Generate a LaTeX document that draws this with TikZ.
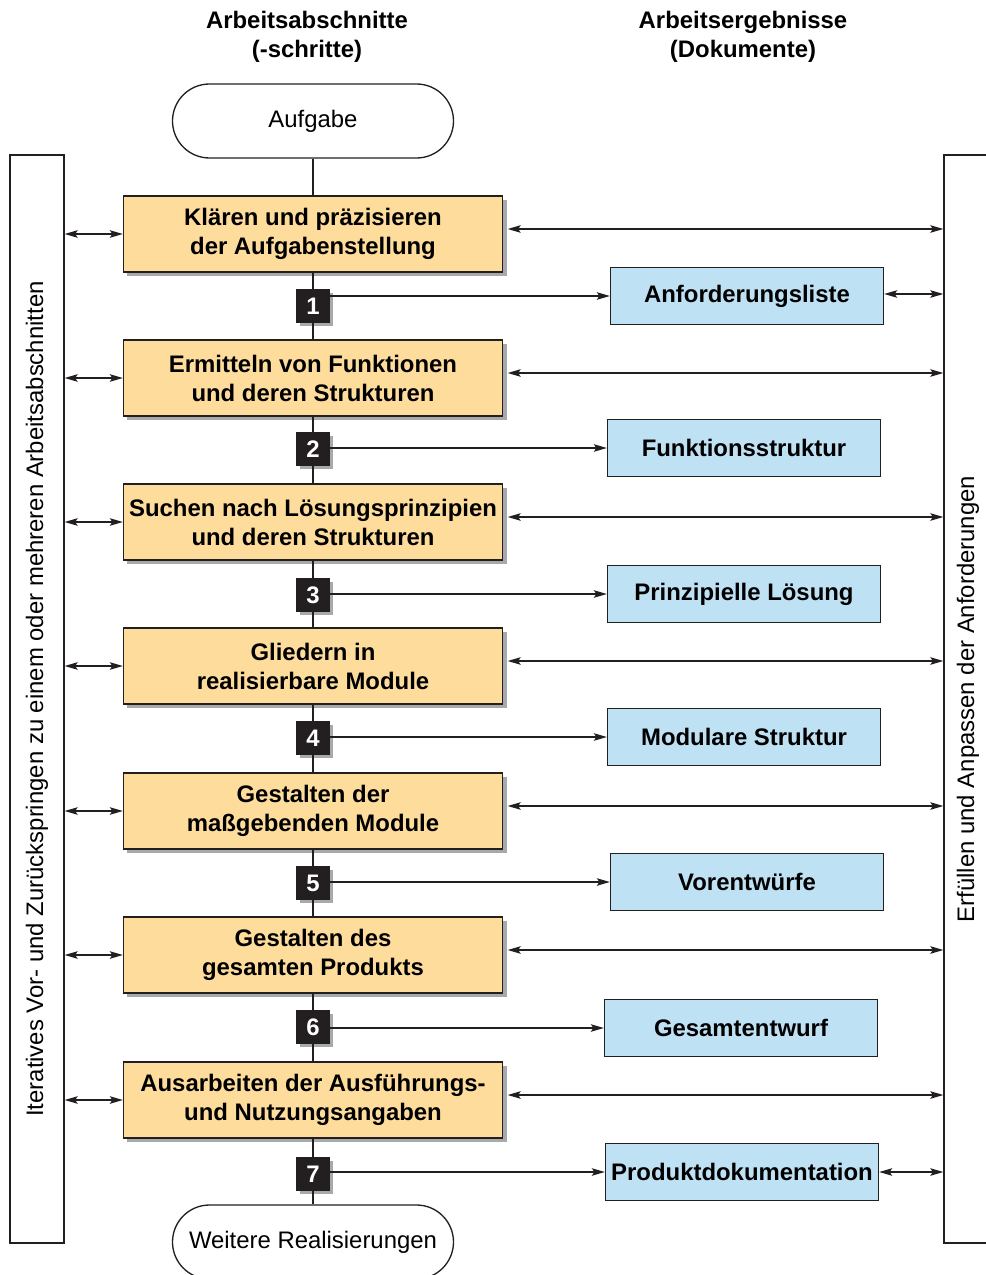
\documentclass[tikz,border=0pt]{standalone}
\usepackage{fontspec}
\setmainfont{Liberation Sans}
\usepackage{xcolor}
\usetikzlibrary{arrows.meta,positioning,shadows}
\definecolor{lineclr}{RGB}{35,31,32}
\definecolor{phasefill}{RGB}{254,220,155}
\definecolor{docfill}{RGB}{191,225,244}
\definecolor{shadowgray}{RGB}{167,169,172}

\begin{document}
\begin{tikzpicture}[
  x=0.2mm, y=-0.2mm, line width=0.75pt,
  every node/.style={font=\fontsize{13.6}{16.5}\selectfont},
  head/.style={align=center, font=\fontsize{13.6}{16.5}\selectfont\bfseries},
  term/.style={rectangle, rounded corners=7.4mm, draw=lineclr, fill=white, minimum width=56.2mm, minimum height=14.8mm},
  phase/.style={rectangle, draw=lineclr, fill=phasefill, minimum width=75.8mm, minimum height=15.2mm, inner sep=1pt, align=center, font=\fontsize{13.6}{16.5}\selectfont\bfseries, drop shadow={shadow xshift=0.8mm, shadow yshift=-0.8mm, fill=shadowgray, opacity=1}},
  doc/.style={rectangle, draw=lineclr, fill=docfill, minimum width=54.6mm, minimum height=11.4mm, inner sep=1pt, font=\fontsize{13.6}{16.5}\selectfont\bfseries},
  num/.style={rectangle, fill=lineclr, text=white, minimum size=6.7mm, inner sep=0pt, font=\fontsize{13.6}{16.5}\selectfont\bfseries, drop shadow={shadow xshift=0.7mm, shadow yshift=-0.7mm, fill=shadowgray, opacity=1}},
  frame/.style={rectangle, draw=lineclr, minimum width=10.8mm, minimum height=217.6mm, inner sep=0pt},
  link/.style={draw=lineclr},
  arr/.style={-{Stealth[length=2.6mm, width=1.5mm, inset=0.5mm]}, draw=lineclr},
  darr/.style={{Stealth[length=2.6mm, width=1.5mm, inset=0.5mm]}-{Stealth[length=2.6mm, width=1.5mm, inset=0.5mm]}, draw=lineclr},
  rarr/.style={darr, shorten <=0.9mm},
]
\useasboundingbox (0,0) rectangle (985,1275);

% Headings
\node[head] (hsteps) at (307,37) {Arbeitsabschnitte\\(-schritte)};
\node[head] (hdocs) at (743,37) {Arbeitsergebnisse\\(Dokumente)};

% Side frames
\node[frame] (back) at (37,699) {\rotatebox{90}{Iteratives Vor- und Zurückspringen zu einem oder mehreren Arbeitsabschnitten}};
\node[frame, minimum width=9.6mm] (fit) at (968,699) {\rotatebox{90}{Erfüllen und Anpassen der Anforderungen}};

% Start and end
\node[term] (task) at (313,121) {Aufgabe};
\node[term] (more) at (313,1242) {Weitere Realisierungen};

% Working steps
\node[phase] (p1) at (313,234) {Klären und präzisieren\\der Aufgabenstellung};
\node[phase] (p2) at (313,378) {Ermitteln von Funktionen\\und deren Strukturen};
\node[phase] (p3) at (313,522) {Suchen nach Lösungsprinzipien\\und deren Strukturen};
\node[phase] (p4) at (313,666) {Gliedern in\\realisierbare Module};
\node[phase] (p5) at (313,811) {Gestalten der\\maßgebenden Module};
\node[phase] (p6) at (313,955) {Gestalten des\\gesamten Produkts};
\node[phase] (p7) at (313,1100) {Ausarbeiten der Ausführungs-\\und Nutzungsangaben};

% Step numbers
\node[num] (n1) at (313,306) {1};
\node[num] (n2) at (313,449) {2};
\node[num] (n3) at (313,595) {3};
\node[num] (n4) at (313,738) {4};
\node[num] (n5) at (313,883) {5};
\node[num] (n6) at (313,1027) {6};
\node[num] (n7) at (313,1174) {7};

% Documents
\node[doc] (d1) at (747,296) {Anforderungsliste};
\node[doc] (d2) at (744,448) {Funktionsstruktur};
\node[doc] (d3) at (744,594) {Prinzipielle Lösung};
\node[doc] (d4) at (744,737) {Modulare Struktur};
\node[doc] (d5) at (747,882) {Vorentwürfe};
\node[doc] (d6) at (741,1028) {Gesamtentwurf};
\node[doc] (d7) at (742,1172) {Produktdokumentation};

% Main flow
\draw[link] (task) -- (p1) -- (n1) -- (p2) -- (n2) -- (p3) -- (n3) -- (p4) -- (n4)
  -- (p5) -- (n5) -- (p6) -- (n6) -- (p7) -- (n7) -- (more);

% Results
\draw[arr] (n1.east |- d1) -- (d1);
\draw[arr] (n2.east |- d2) -- (d2);
\draw[arr] (n3.east |- d3) -- (d3);
\draw[arr] (n4.east |- d4) -- (d4);
\draw[arr] (n5.east |- d5) -- (d5);
\draw[arr] (n6.east |- d6) -- (d6);
\draw[arr] (n7.east |- d7) -- (d7);

% Iteration (left)
\draw[darr] (back.east |- p1) -- (p1);
\draw[darr] (back.east |- p2) -- (p2);
\draw[darr] (back.east |- p3) -- (p3);
\draw[darr] (back.east |- p4) -- (p4);
\draw[darr] (back.east |- p5) -- (p5);
\draw[darr] (back.east |- p6) -- (p6);
\draw[darr] (back.east |- p7) -- (p7);

% Requirements (right)
\draw[rarr] ([yshift=1mm]p1.east) -- ([yshift=1mm]fit.west |- p1);
\draw[rarr] ([yshift=1mm]p2.east) -- ([yshift=1mm]fit.west |- p2);
\draw[rarr] ([yshift=1mm]p3.east) -- ([yshift=1mm]fit.west |- p3);
\draw[rarr] ([yshift=1mm]p4.east) -- ([yshift=1mm]fit.west |- p4);
\draw[rarr] ([yshift=1mm]p5.east) -- ([yshift=1mm]fit.west |- p5);
\draw[rarr] ([yshift=1mm]p6.east) -- ([yshift=1mm]fit.west |- p6);
\draw[rarr] ([yshift=1mm]p7.east) -- ([yshift=1mm]fit.west |- p7);
\draw[darr] ([yshift=0.4mm]d1.east) -- ([yshift=0.4mm]fit.west |- d1);
\draw[darr] (d7) -- (fit.west |- d7);

\end{tikzpicture}
\end{document}
